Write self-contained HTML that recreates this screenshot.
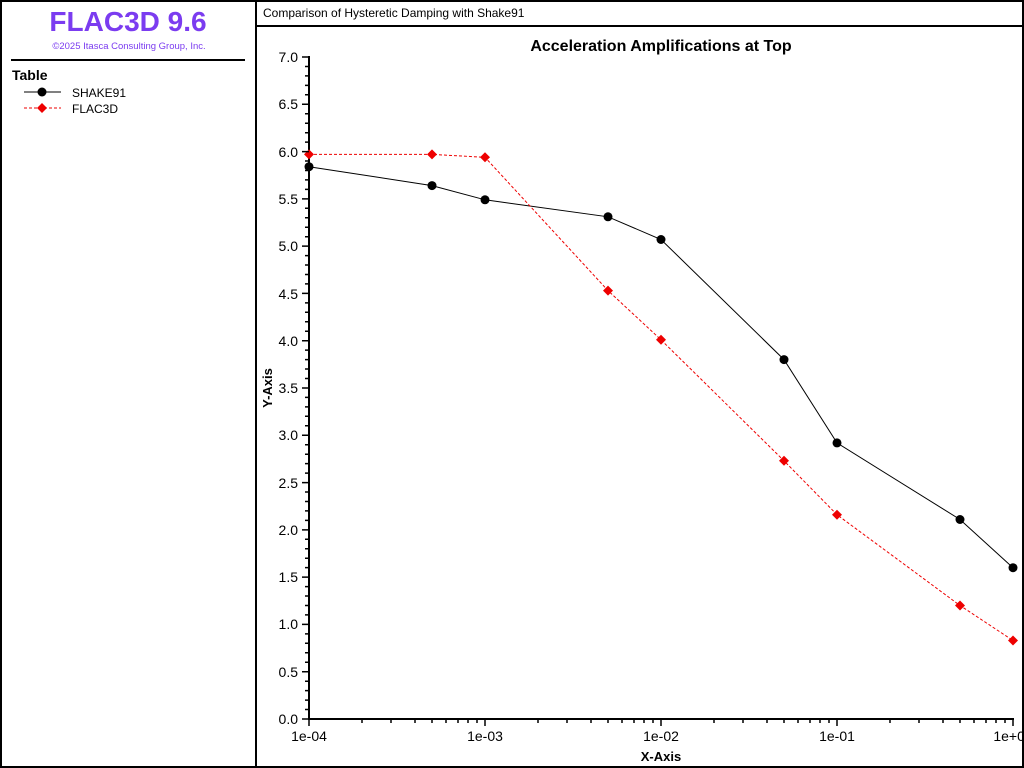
<!DOCTYPE html>
<html><head><meta charset="utf-8"><style>
html,body{margin:0;padding:0;background:#fff;}
svg{display:block;font-family:"Liberation Sans",sans-serif;}
</style></head><body>
<svg width="1024" height="768" xmlns="http://www.w3.org/2000/svg">
<rect x="1" y="1" width="1022" height="766" fill="#fff" stroke="#000" stroke-width="2"/>
<line x1="256" y1="0" x2="256" y2="768" stroke="#000" stroke-width="2"/>
<line x1="256" y1="26" x2="1024" y2="26" stroke="#000" stroke-width="2"/>
<text x="128" y="31" text-anchor="middle" font-size="28" font-weight="bold" fill="#7b3cf0">FLAC3D 9.6</text>
<text x="129" y="49" text-anchor="middle" font-size="9.5" fill="#7b3cf0">©2025 Itasca Consulting Group, Inc.</text>
<line x1="11" y1="60" x2="245" y2="60" stroke="#000" stroke-width="2"/>
<text x="12" y="80" font-size="14" font-weight="bold">Table</text>
<line x1="24" y1="92" x2="61" y2="92" stroke="#000"/><circle cx="42" cy="92" r="4.5"/>
<text x="72" y="97" font-size="12">SHAKE91</text>
<line x1="24" y1="108" x2="61" y2="108" stroke="#e00" stroke-dasharray="3,2"/><polygon points="42,103 47,108 42,113 37,108" fill="#e00"/>
<text x="72" y="113" font-size="12">FLAC3D</text>
<text x="263" y="17" font-size="12">Comparison of Hysteretic Damping with Shake91</text>
<text x="661" y="51" text-anchor="middle" font-size="16" font-weight="bold">Acceleration Amplifications at Top</text>
<text x="272" y="388" text-anchor="middle" font-size="13" font-weight="bold" transform="rotate(-90 272 388)">Y-Axis</text>
<text x="661" y="761" text-anchor="middle" font-size="13" font-weight="bold">X-Axis</text>
<g id="ax" stroke="#000"></g>
<line x1="309" y1="56" x2="309" y2="720" stroke="#000" stroke-width="2"/>
<line x1="308" y1="719" x2="1014" y2="719" stroke="#000" stroke-width="2"/>
<g stroke="#000" stroke-width="1.5">
<script type="text/javascript"></script>
</g>
<g id="ticks"></g>
<polyline fill="none" stroke="#000" points="309,166.7 432,185.6 485,199.8 608,216.8 661,239.5 784,359.6 837,442.9 960,519.5 1013,567.7"/>
<g fill="#000"><circle cx="309" cy="166.7" r="4.5"/><circle cx="432" cy="185.6" r="4.5"/><circle cx="485" cy="199.8" r="4.5"/><circle cx="608" cy="216.8" r="4.5"/><circle cx="661" cy="239.5" r="4.5"/><circle cx="784" cy="359.6" r="4.5"/><circle cx="837" cy="442.9" r="4.5"/><circle cx="960" cy="519.5" r="4.5"/><circle cx="1013" cy="567.7" r="4.5"/></g>
<polyline fill="none" stroke="#e00" stroke-dasharray="3,2" points="309,154.4 432,154.4 485,157.3 608,290.6 661,339.8 784,460.8 837,514.7 960,605.5 1013,640.5"/>
<g fill="#e00">
<polygon points="309,149.4 314,154.4 309,159.4 304,154.4"/><polygon points="432,149.4 437,154.4 432,159.4 427,154.4"/><polygon points="485,152.3 490,157.3 485,162.3 480,157.3"/><polygon points="608,285.6 613,290.6 608,295.6 603,290.6"/><polygon points="661,334.8 666,339.8 661,344.8 656,339.8"/><polygon points="784,455.8 789,460.8 784,465.8 779,460.8"/><polygon points="837,509.7 842,514.7 837,519.7 832,514.7"/><polygon points="960,600.5 965,605.5 960,610.5 955,605.5"/><polygon points="1013,635.5 1018,640.5 1013,645.5 1008,640.5"/>
</g>
<g font-size="14" text-anchor="end">
<text x="298" y="724">0.0</text><text x="298" y="677">0.5</text><text x="298" y="629">1.0</text><text x="298" y="582">1.5</text><text x="298" y="535">2.0</text><text x="298" y="488">2.5</text><text x="298" y="440">3.0</text><text x="298" y="393">3.5</text><text x="298" y="346">4.0</text><text x="298" y="299">4.5</text><text x="298" y="251">5.0</text><text x="298" y="204">5.5</text><text x="298" y="157">6.0</text><text x="298" y="109">6.5</text><text x="298" y="62">7.0</text>
</g>
<g font-size="14" text-anchor="middle">
<text x="309" y="741">1e-04</text><text x="485" y="741">1e-03</text><text x="661" y="741">1e-02</text><text x="837" y="741">1e-01</text><text x="1013" y="741">1e+00</text>
</g>
<path stroke="#000" stroke-width="1.5" fill="none" d="
M302,719H309M302,671.7H309M302,624.4H309M302,577.1H309M302,529.9H309M302,482.6H309M302,435.3H309M302,388H309M302,340.7H309M302,293.4H309M302,246.1H309M302,198.9H309M302,151.6H309M302,104.3H309M302,57H309
M305,709.5H309M305,700.1H309M305,690.6H309M305,681.2H309
M305,662.2H309M305,652.8H309M305,643.3H309M305,633.9H309
M305,614.9H309M305,605.5H309M305,596H309M305,586.6H309
M305,567.6H309M305,558.2H309M305,548.7H309M305,539.3H309
M305,520.4H309M305,510.9H309M305,501.5H309M305,492H309
M305,473.1H309M305,463.6H309M305,454.2H309M305,444.7H309
M305,425.8H309M305,416.3H309M305,406.9H309M305,397.4H309
M305,378.5H309M305,369H309M305,359.6H309M305,350.1H309
M305,331.2H309M305,321.8H309M305,312.3H309M305,302.9H309
M305,283.9H309M305,274.5H309M305,265H309M305,255.6H309
M305,236.7H309M305,227.2H309M305,217.8H309M305,208.3H309
M305,189.4H309M305,179.9H309M305,170.5H309M305,161H309
M305,142.1H309M305,132.7H309M305,123.2H309M305,113.8H309
M305,94.8H309M305,85.4H309M305,75.9H309M305,66.5H309
M309,719V726M485,719V726M661,719V726M837,719V726M1013,719V726
M362,719V723M391,719V723M415,719V723M432,719V723M446,719V723M458,719V723M468,719V723M477,719V723
M538,719V723M567,719V723M591,719V723M608,719V723M622,719V723M634,719V723M644,719V723M653,719V723
M714,719V723M743,719V723M767,719V723M784,719V723M798,719V723M810,719V723M820,719V723M829,719V723
M890,719V723M919,719V723M943,719V723M960,719V723M974,719V723M986,719V723M996,719V723M1005,719V723"/>
<rect x="1022" y="0" width="2" height="768" fill="#000"/>
</svg>
</body></html>
